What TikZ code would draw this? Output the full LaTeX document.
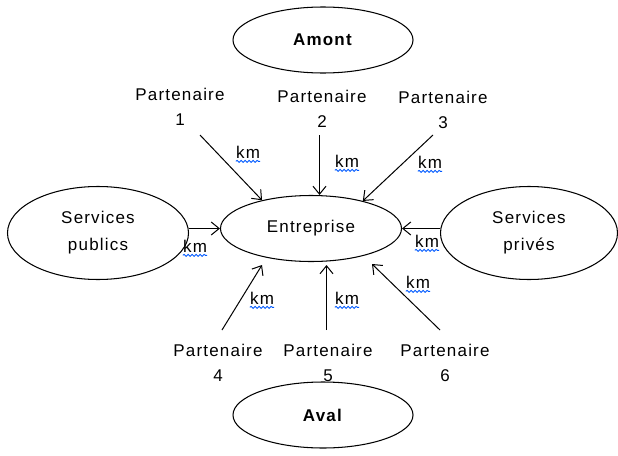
\documentclass[tikz,border=0pt]{standalone}
\usepackage{fontspec}
\setmainfont[LetterSpace=7]{Liberation Sans}
\usetikzlibrary{shapes.geometric,arrows.meta,decorations.pathmorphing}
\begin{document}
\begin{tikzpicture}[x=1pt,y=-1pt,
  txt/.style={font=\fontsize{17}{25}\selectfont, align=center, inner sep=0pt},
  ell/.style={draw, ellipse, line width=1.05pt, inner sep=0pt, fill=white, font=\fontsize{17}{27}\selectfont, align=center},
  arr/.style={line width=1pt, -{Straight Barb[length=8pt,width=13pt]}},
  kmlab/.style={font=\fontsize{17}{20}\selectfont, inner sep=0pt},
  wavy/.style={draw=blue!65!cyan, line width=0.9pt, decorate, decoration={snake, amplitude=1pt, segment length=4pt}}
]
\useasboundingbox (0,0) rectangle (618,455);

% ellipses
\node[ell, minimum width=180pt, minimum height=66pt] (amont) at (323,40) {\textbf{Amont}};
\node[ell, minimum width=181pt, minimum height=66pt] (ent) at (311,228.5) {Entreprise};
\node[ell, minimum width=181pt, minimum height=93pt] (pub) at (98,233) {Services\\publics};
\node[ell, minimum width=177pt, minimum height=93pt] (priv) at (529,233) {Services\\privés};
\node[ell, minimum width=180pt, minimum height=66pt] (aval) at (323,415) {\textbf{Aval}};

% partners
\node[txt] (p1) at (180,107) {Partenaire\\1};
\node[txt] (p2) at (322,109) {Partenaire\\2};
\node[txt] (p3) at (443,110) {Partenaire\\3};
\node[txt] (p4) at (218,363) {Partenaire\\4};
\node[txt] (p5) at (328,363) {Partenaire\\5};
\node[txt] (p6) at (445,363) {Partenaire\\6};

% arrow end points
\coordinate (s1) at (200,135);
\coordinate (s2) at (319.5,135);
\coordinate (s3) at (433,135);
\coordinate (s4) at (222,330);
\coordinate (s5) at (326.5,330);
\coordinate (s6) at (440,330);
\coordinate (e4) at (262,265);
\coordinate (e5) at (326.5,265);
\coordinate (e6) at (372,264);

\draw[arr] (s1) -- (ent.150);
\draw[arr] (s2) -- (s2 |- ent.north);
\draw[arr] (s3) -- (ent.28);
\draw[arr] (s4) -- (e4);
\draw[arr] (s5) -- (e5);
\draw[arr] (s6) -- (e6);
\draw[arr] (ent.west -| pub.east) -- (ent.west);
\draw[arr] (ent.east -| priv.west) -- (ent.east);

% km labels
\foreach \n/\x/\y in {k1/248/152, k2/347/161, k3/430/162, kpub/195/246, kpriv/427/241, k4/262/298, k5/347/298, k6/418/282}{
  \node[kmlab] (\n) at (\x,\y) {km};
  \draw[wavy] ([yshift=-3pt]\n.south west) -- ([yshift=-3pt]\n.south east);
}
\end{tikzpicture}
\end{document}
